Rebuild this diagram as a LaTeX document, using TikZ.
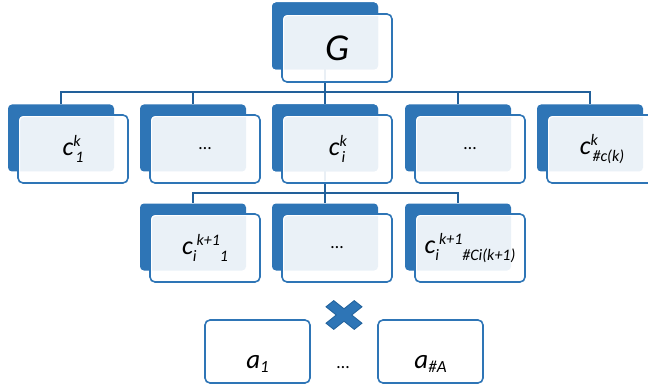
\documentclass[tikz,border=0pt]{standalone}
\usepackage{fontspec}
\setmainfont{Carlito}
\usetikzlibrary{positioning}
\definecolor{cardblue}{HTML}{2E75B6}
\definecolor{linkblue}{HTML}{22609A}
\definecolor{crossedge}{HTML}{1F5F99}
\newcommand\ssup[1]{\raisebox{9pt}{\fontsize{16}{16}\selectfont #1}}
\newcommand\ssub[1]{\raisebox{-7pt}{\fontsize{16}{16}\selectfont #1}}
\newcommand\both[2]{\rlap{\ssup{#1}}\kern2pt\ssub{#2}}

\begin{document}
\begin{tikzpicture}[x=1pt,y=-1pt,
  back/.style={fill=cardblue,rounded corners=4pt,minimum width=106pt,minimum height=67pt,inner sep=0pt},
  front/.style={draw=cardblue,line width=1.6pt,fill=white,fill opacity=0.9,text opacity=1,
    rounded corners=5pt,minimum width=110pt,minimum height=68pt,inner sep=0pt,
    font=\fontsize{26}{26}\selectfont\itshape,
    path picture={\draw[white,line width=4.4pt,rounded corners=5pt]
      (path picture bounding box.south west) rectangle (path picture bounding box.north east);}},
  link/.style={draw=linkblue,line width=1.5pt},
  lone/.style={draw=cardblue,line width=1.6pt,fill=white,rounded corners=5pt,
    minimum width=105pt,minimum height=63pt,inner sep=0pt,text height=33pt,text depth=0pt,
    font=\fontsize{27}{27}\selectfont\itshape},
  dots/.style={font=\fontsize{18}{18}\selectfont}]
\clip (0,0) rectangle (648,385);
\coordinate (bus1) at (325,92);
\coordinate (bus2) at (325,193);
\node[back] (gb) at (325,36) {};
\node[back] (c1b) at (61,138) {};
\node[back] (c2b) at (193,138) {};
\node[back] (c3b) at (325,138) {};
\node[back] (c4b) at (458,138) {};
\node[back] (c5b) at (590,138) {};
\node[back] (d1b) at (193,237) {};
\node[back] (d2b) at (325,237) {};
\node[back] (d3b) at (458,237) {};
\draw[link] (gb.center) -- (bus1);
\draw[link] (bus1) -| (c1b.north);
\draw[link] (bus1) -| (c2b.north);
\draw[link] (bus1) -- (c3b.north);
\draw[link] (bus1) -| (c4b.north);
\draw[link] (bus1) -| (c5b.north);
\draw[link] (c3b.center) -- (bus2);
\draw[link] (bus2) -| (d1b.north);
\draw[link] (bus2) -- (d2b.north);
\draw[link] (bus2) -| (d3b.north);
\node[back] at (gb) {};
\node[back] at (c3b) {};
\node[front,font=\fontsize{38}{38}\selectfont\itshape] (g) at (337,48) {G};
\node[front] (c1) at (73,149) {c\both{k}{1}};
\node[front,dots] (c2) at (205,149) {…};
\node[front] (c3) at (337,149) {c\both{k}{i}};
\node[front,dots] (c4) at (470,149) {…};
\node[front] (c5) at (602,149) {c\both{k}{\#c(k)}};
\node[front] (d1) at (205,248) {c\ssub{i}\ssup{k+1}\ssub{1}};
\node[front,dots] (d2) at (337,248) {…};
\node[front] (d3) at (470,248) {c\ssub{i}\ssup{k+1}\ssub{\#Ci(k+1)}};
\begin{scope}[shift={(344,315)},yscale=0.8,rotate=45]
  \filldraw[fill=cardblue,draw=crossedge,line width=0.8pt]
    (5.5,5.5) -- (5.5,20) -- (-5.5,20) -- (-5.5,5.5) -- (-20,5.5) -- (-20,-5.5) -- (-5.5,-5.5)
    -- (-5.5,-20) -- (5.5,-20) -- (5.5,-5.5) -- (20,-5.5) -- (20,5.5) -- cycle;
\end{scope}
\node[lone] (a1) at (257.5,351.5) {a\raisebox{-4pt}{\fontsize{17}{17}\selectfont 1}};
\node[lone] (an) at (430.5,351.5) {a\raisebox{-4pt}{\fontsize{17}{17}\selectfont \#A}};
\node[dots,anchor=base] (adots) at (343,368) {…};
\end{tikzpicture}
\end{document}
